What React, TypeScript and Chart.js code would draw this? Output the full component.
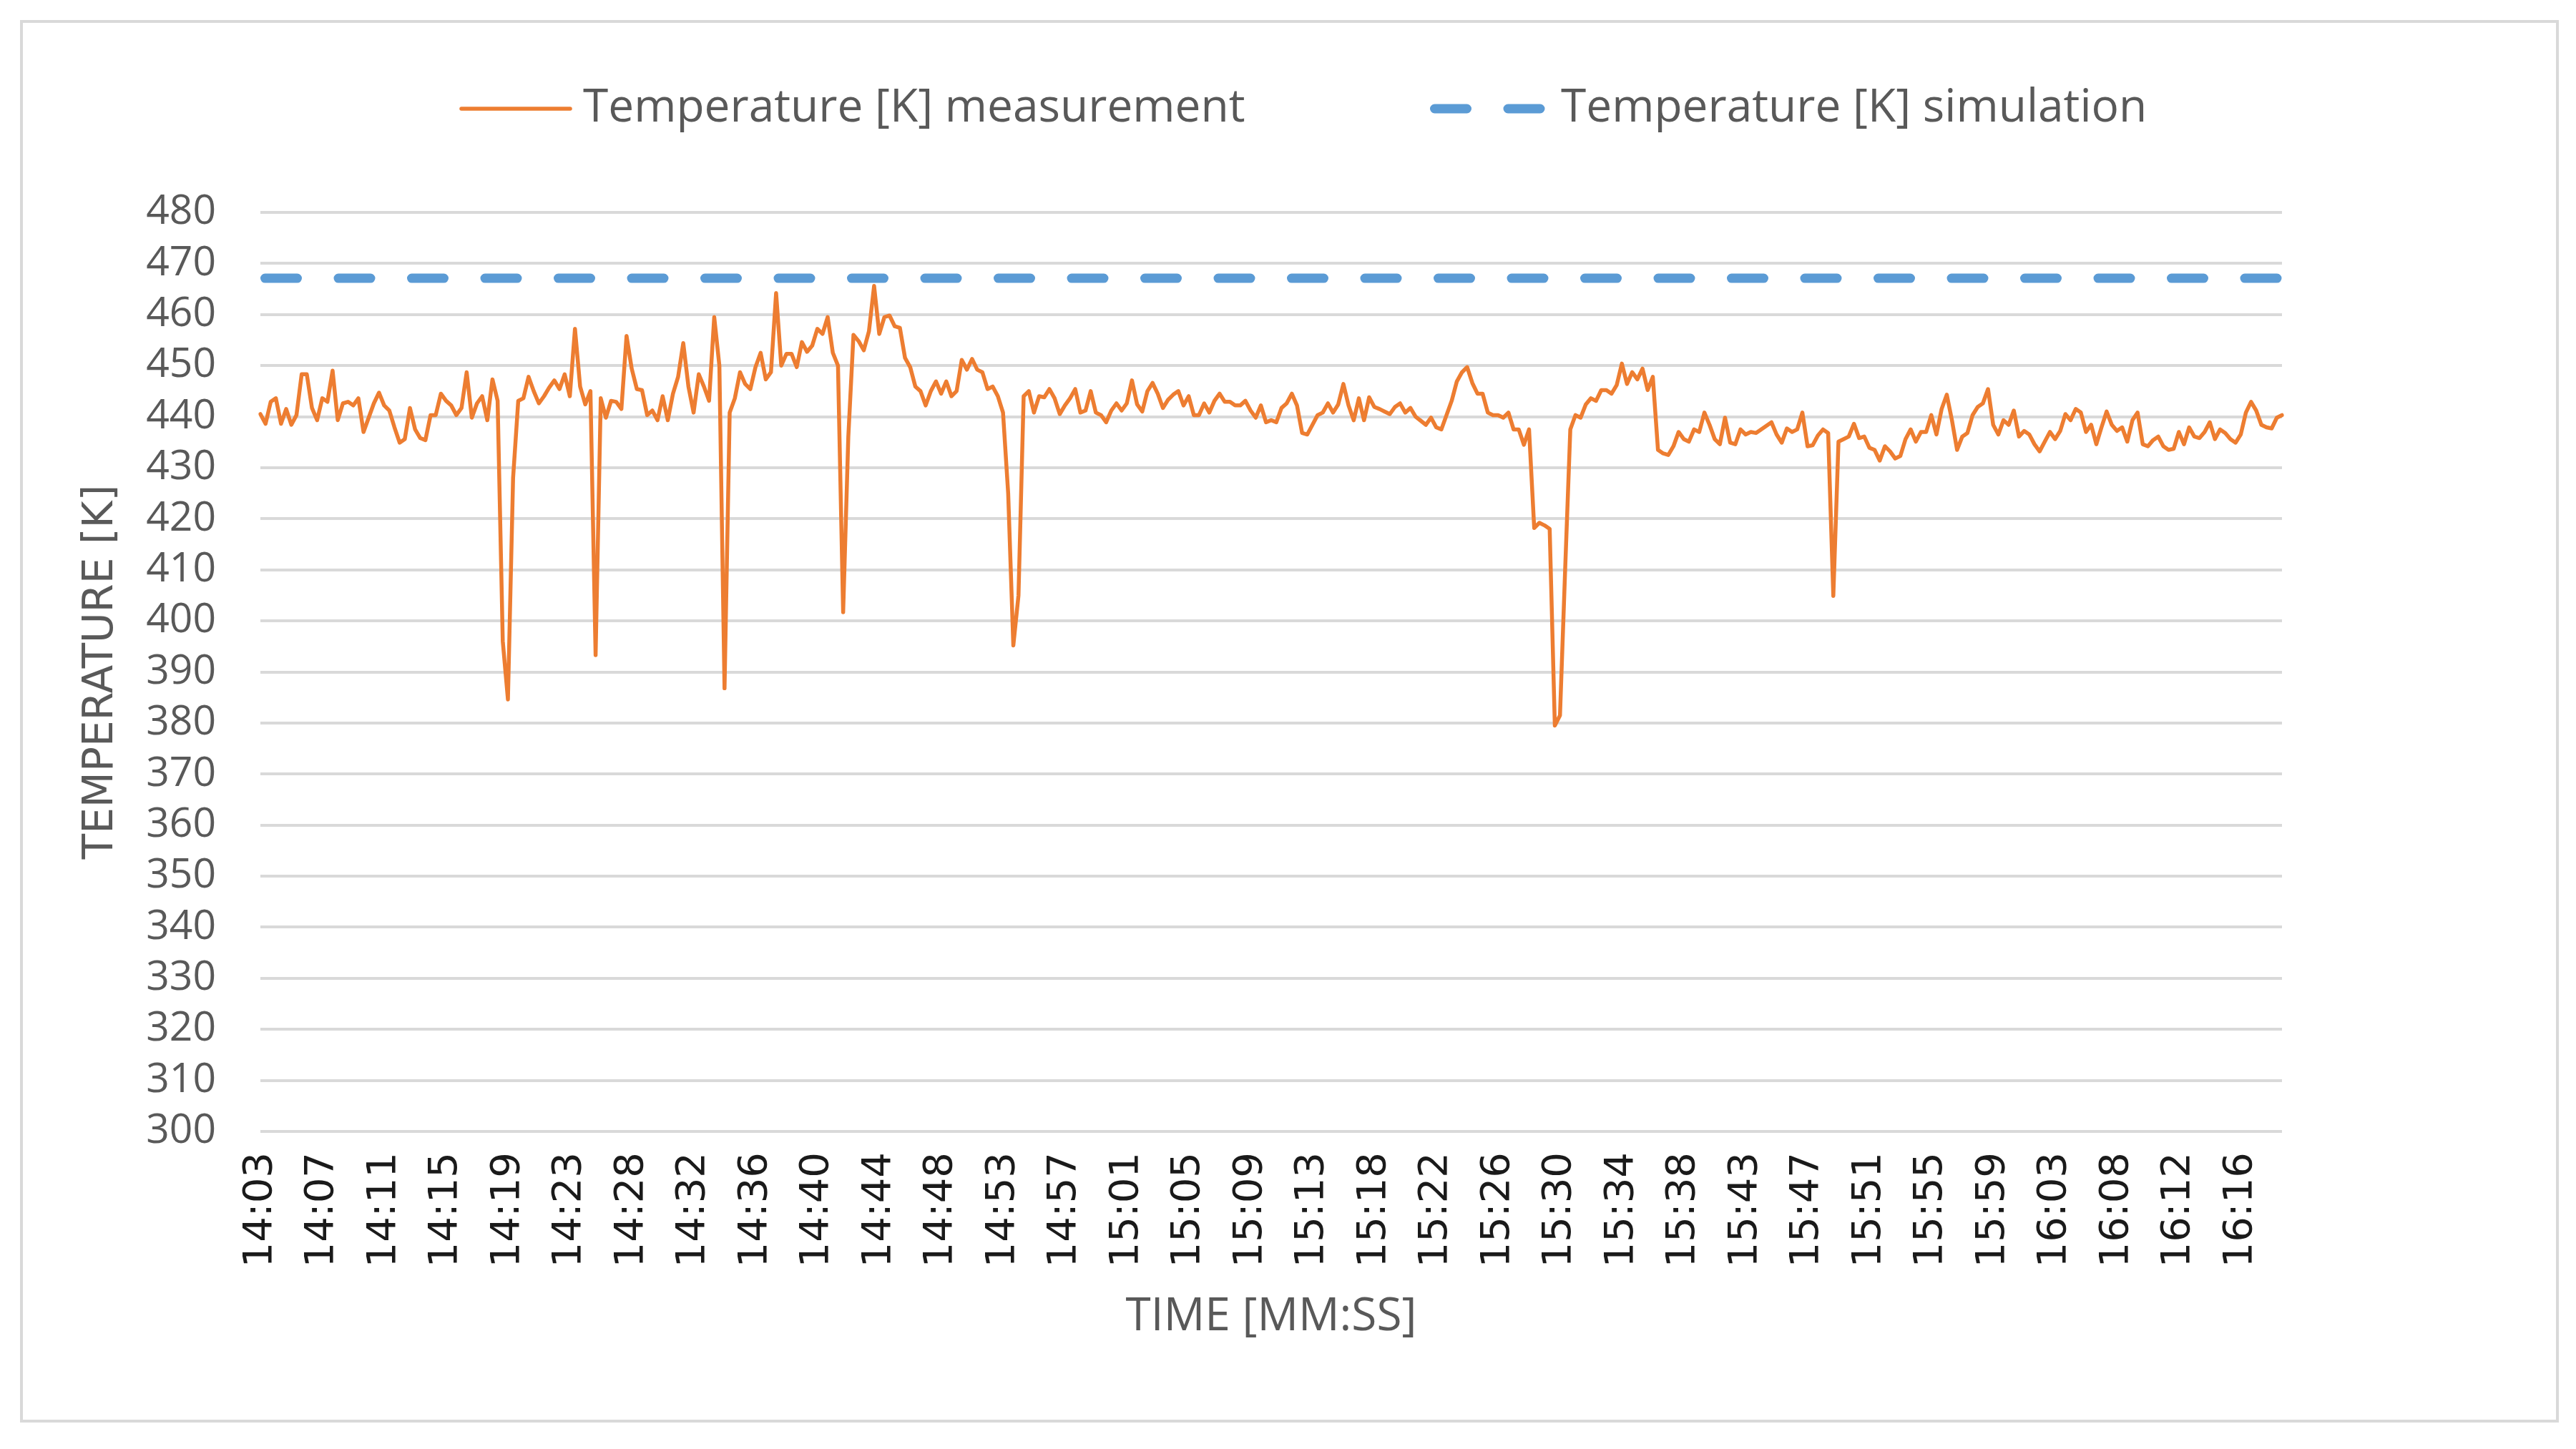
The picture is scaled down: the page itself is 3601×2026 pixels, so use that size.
import React, { useEffect, useRef } from "react";
import { Chart, registerables } from "chart.js";

Chart.register(...registerables);

// ---------- data ----------
const START_SECONDS = 14 * 3600 + 3 * 60; // first sample 14:03:00
const STEP_SECONDS = 250 / 12; // one sample every ~20.8 s

const MEASUREMENT: number[] = [
  440.5, 438.6, 442.9, 443.6, 438.6, 441.5, 438.4, 440.3, 448.3, 448.3,
  441.7, 439.3, 443.6, 442.9, 449.0, 439.3, 442.6, 442.9, 442.2, 443.6,
  437.0, 439.8, 442.6, 444.7, 442.2, 441.2, 437.9, 434.9, 435.6, 441.7,
  437.5, 435.8, 435.4, 440.3, 440.3, 444.5, 443.1, 442.2, 440.3, 441.7,
  448.7, 439.8, 442.6, 444.0, 439.3, 447.3, 443.1, 396.0, 384.6, 428.0,
  443.1, 443.6, 447.8, 445.0, 442.6, 444.0, 445.7, 447.1, 445.4, 448.3,
  444.0, 457.2, 445.9, 442.4, 445.0, 393.3, 443.6, 439.8, 443.1, 442.9,
  441.5, 455.8, 449.4, 445.4, 445.2, 440.3, 441.2, 439.3, 444.0, 439.3,
  444.5, 447.8, 454.4, 445.9, 440.8, 448.3, 445.9, 443.1, 459.5, 450.0,
  386.8, 440.8, 443.6, 448.7, 446.4, 445.4, 449.7, 452.5, 447.3, 448.7,
  464.2, 450.0, 452.3, 452.3, 449.7, 454.6, 452.7, 453.9, 457.2, 456.2,
  459.5, 452.5, 450.0, 401.7, 436.0, 456.0, 454.8, 453.0, 456.7, 465.6,
  456.2, 459.5, 459.8, 457.7, 457.4, 451.5, 449.7, 445.9, 445.0, 442.2,
  445.0, 446.9, 444.5, 446.9, 444.0, 445.0, 451.1, 449.2, 451.3, 449.2,
  448.7, 445.4, 445.9, 444.0, 440.8, 425.0, 395.2, 405.0, 444.0, 445.0,
  440.8, 444.0, 443.8, 445.4, 443.6, 440.5, 442.2, 443.6, 445.4, 440.8,
  441.2, 445.0, 440.8, 440.3, 438.9, 441.2, 442.6, 441.2, 442.6, 447.1,
  442.4, 441.0, 445.0, 446.6, 444.5, 441.7, 443.3, 444.3, 445.0, 442.2,
  444.0, 440.3, 440.3, 442.6, 440.8, 443.1, 444.5, 442.9, 442.9, 442.2,
  442.2, 443.1, 441.2, 439.8, 442.2, 438.9, 439.3, 438.9, 441.7, 442.6,
  444.5, 442.2, 436.8, 436.5, 438.4, 440.3, 440.8, 442.6, 440.8, 442.4,
  446.4, 442.2, 439.3, 443.6, 439.3, 443.8, 441.9, 441.5, 441.0, 440.5,
  441.9, 442.6, 440.8, 441.7, 440.0, 439.2, 438.4, 439.8, 437.9, 437.5,
  440.3, 443.1, 446.9, 448.7, 449.7, 446.6, 444.5, 444.5, 440.8, 440.3,
  440.3, 439.8, 440.8, 437.5, 437.5, 434.5, 437.5, 418.2, 419.2, 418.7,
  418.0, 379.5, 381.5, 410.0, 437.5, 440.3, 439.8, 442.4, 443.6, 443.1,
  445.2, 445.2, 444.5, 446.2, 450.4, 446.4, 448.7, 447.3, 449.4, 445.2,
  447.8, 433.5, 432.8, 432.5, 434.2, 437.0, 435.6, 435.1, 437.5, 437.0,
  440.8, 438.4, 435.6, 434.6, 439.8, 434.9, 434.6, 437.5, 436.5, 437.0,
  436.8, 437.5, 438.2, 438.9, 436.5, 434.9, 437.7, 437.0, 437.5, 440.8,
  434.2, 434.4, 436.3, 437.5, 436.8, 404.9, 435.1, 435.6, 436.1, 438.6,
  435.8, 436.1, 433.9, 433.5, 431.4, 434.2, 433.2, 431.8, 432.3, 435.6,
  437.5, 435.1, 437.0, 437.0, 440.3, 436.5, 441.5, 444.3, 439.3, 433.5,
  436.1, 436.8, 440.3, 441.9, 442.6, 445.4, 438.4, 436.5, 439.3, 438.4,
  441.2, 436.1, 437.2, 436.5, 434.6, 433.2, 435.1, 437.0, 435.6, 437.2,
  440.5, 439.3, 441.5, 440.8, 437.0, 438.4, 434.6, 437.9, 441.0, 438.4,
  437.2, 437.9, 435.1, 439.3, 440.8, 434.6, 434.2, 435.4, 436.1, 434.2,
  433.5, 433.7, 437.0, 434.6, 437.9, 436.1, 435.8, 437.0, 438.9, 435.6,
  437.5, 436.8, 435.6, 434.9, 436.5, 440.8, 442.9, 441.2, 438.4, 437.9,
  437.7, 439.8, 440.3,
];

const SIMULATION_VALUE = 467.1;

const TICK_LABELS: string[] = [
  "14:03", "14:07", "14:11", "14:15", "14:19", "14:23", "14:28", "14:32",
  "14:36", "14:40", "14:44", "14:48", "14:53", "14:57", "15:01", "15:05",
  "15:09", "15:13", "15:18", "15:22", "15:26", "15:30", "15:34", "15:38",
  "15:43", "15:47", "15:51", "15:55", "15:59", "16:03", "16:08", "16:12",
  "16:16",
];
const TICK_EVERY = 12;

const SERIES_NAMES = ["Temperature [K] measurement", "Temperature [K] simulation"];
const Y_MIN = 300;
const Y_MAX = 480;
const Y_STEP = 10;

const p2 = (n: number) => String(n).padStart(2, "0");
const CATEGORIES: string[] = MEASUREMENT.map((_, i) => {
  const t = Math.round(START_SECONDS + i * STEP_SECONDS);
  return `${p2(Math.floor(t / 3600))}:${p2(Math.floor(t / 60) % 60)}:${p2(t % 60)}`;
});

// ---------- styles ----------
const ORANGE = "#ED7D31";
const BLUE = "#5B9BD5";
const GRID = "#D9D9D9";
const TEXT = "#595959";
const W = 3601;
const H = 2026;
const DASH = [45, 57.5];

const framePlugin = {
  id: "frame",
  beforeDraw(chart: any) {
    const ctx = chart.ctx;
    ctx.save();
    ctx.fillStyle = "#ffffff";
    ctx.fillRect(0, 0, chart.width, chart.height);
    ctx.strokeStyle = GRID;
    ctx.lineWidth = 4;
    ctx.strokeRect(30, 30, 3545, 1957);
    ctx.restore();
  },
};

const legendPlugin = {
  id: "excelLegend",
  afterDraw(chart: any) {
    const ctx = chart.ctx;
    const ds = chart.data.datasets;
    const y = 152;
    const items = [
      { x0: 645, x1: 797, tx: 815 },
      { x0: 2005.5, x1: 2160, tx: 2182 },
    ];
    ctx.save();
    items.forEach((it, i) => {
      const d = ds[i];
      ctx.beginPath();
      ctx.strokeStyle = d.borderColor;
      ctx.lineWidth = d.borderWidth;
      ctx.lineCap = d.borderCapStyle || "butt";
      ctx.setLineDash(d.borderDash || []);
      ctx.moveTo(it.x0, y);
      ctx.lineTo(it.x1, y);
      ctx.stroke();
      ctx.setLineDash([]);
      ctx.fillStyle = TEXT;
      ctx.font = '64px "Open Sans"';
      ctx.textBaseline = "middle";
      ctx.textAlign = "left";
      ctx.fillText(d.label, it.tx, y);
    });
    ctx.restore();
  },
};

export default function App() {
  const ref = useRef<HTMLCanvasElement | null>(null);

  useEffect(() => {
    document.body.style.margin = "0";
    const canvas = ref.current;
    if (!canvas) return;
    const chart = new Chart(canvas, {
      type: "line",
      data: {
        labels: CATEGORIES,
        datasets: [
          {
            label: SERIES_NAMES[0],
            data: MEASUREMENT,
            borderColor: ORANGE,
            backgroundColor: ORANGE,
            borderWidth: 5.5,
            pointRadius: 0,
            tension: 0,
            borderJoinStyle: "round",
            borderCapStyle: "round",
          },
          {
            label: SERIES_NAMES[1],
            data: [
              { x: CATEGORIES[0], y: SIMULATION_VALUE },
              { x: CATEGORIES[CATEGORIES.length - 1], y: SIMULATION_VALUE },
            ],
            borderColor: BLUE,
            backgroundColor: BLUE,
            borderWidth: 13,
            borderDash: DASH,
            borderDashOffset: -6.5,
            borderCapStyle: "round",
            pointRadius: 0,
            tension: 0,
          },
        ],
      } as any,
      options: {
        animation: false,
        responsive: false,
        devicePixelRatio: 1,
        events: [],
        layout: { padding: { left: 0, top: 297, right: 411, bottom: 0 } },
        plugins: {
          legend: { display: false },
          tooltip: { enabled: false },
        },
        scales: {
          x: {
            type: "category",
            offset: false,
            grid: { display: false, drawTicks: false },
            border: { display: false },
            ticks: {
              autoSkip: false,
              maxRotation: 90,
              minRotation: 90,
              padding: 29,
              color: "#1a1a1a",
              font: { family: '"DejaVu Sans"', size: 56 },
              callback: (_v: any, index: number) =>
                index % TICK_EVERY === 0 ? TICK_LABELS[index / TICK_EVERY] : null,
            },
            title: {
              display: true,
              text: "TIME [MM:SS]",
              color: TEXT,
              font: { family: '"Open Sans"', size: 64 },
              padding: { top: 0, bottom: 146 },
            },
            afterFit: (scale: any) => {
              scale.height = 444;
            },
          },
          y: {
            min: Y_MIN,
            max: Y_MAX,
            grid: { color: GRID, lineWidth: 4, drawTicks: false },
            border: { display: false },
            ticks: {
              stepSize: Y_STEP,
              autoSkip: false,
              padding: 62,
              color: TEXT,
              font: { family: '"Open Sans"', size: 57 },
            },
            title: {
              display: true,
              text: "TEMPERATURE [K]",
              color: TEXT,
              font: { family: '"DejaVu Sans"', size: 58 },
              padding: { top: 107, bottom: 0 },
            },
            afterFit: (scale: any) => {
              scale.width = 364;
            },
          },
        },
      } as any,
      plugins: [framePlugin, legendPlugin],
    });
    return () => chart.destroy();
  }, []);

  return (
    <div style={{ position: "fixed", left: 0, top: 0, width: W, height: H, background: "#fff" }}>
      <canvas ref={ref} width={W} height={H} style={{ width: W, height: H, display: "block" }} />
    </div>
  );
}
